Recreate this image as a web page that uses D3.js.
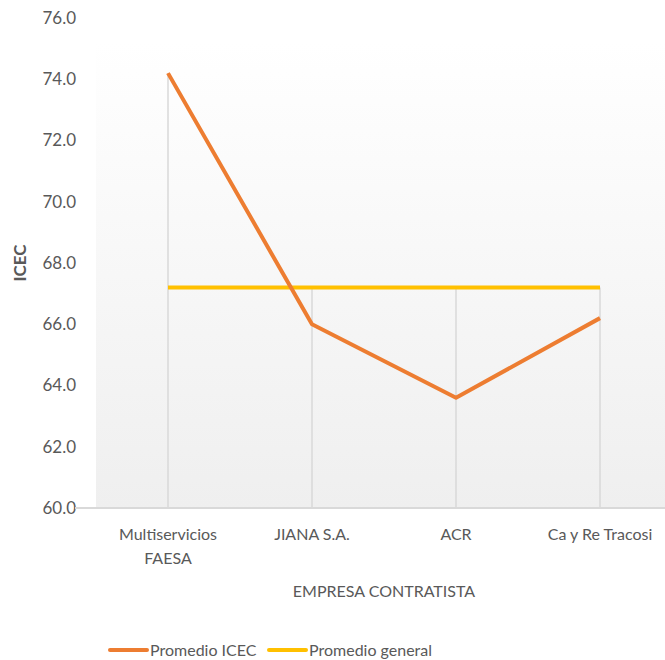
<!DOCTYPE html>
<html>
<head>
<meta charset="utf-8">
<script src="https://cdn.jsdelivr.net/npm/d3@7"></script>
<style>
  body { margin: 0; background: #fff; }
  text { font-family: Lato, "Open Sans", sans-serif; fill: #595959; }
</style>
</head>
<body>
<div id="chart"></div>
<script>
// data
const empresas = [["Multiservicios", "FAESA"], ["JIANA S.A."], ["ACR"], ["Ca y Re Tracosi"]];
const promedioICEC = [74.2, 66.0, 63.6, 66.2];
const promedioGeneral = [67.2, 67.2, 67.2, 67.2];
const yTicks = [60, 62, 64, 66, 68, 70, 72, 74, 76];

const width = 665, height = 660;
const margin = {top: 18, right: -7, bottom: 152, left: 96};

const svg = d3.select("#chart").append("svg")
  .attr("width", width)
  .attr("height", height);

const names = empresas.map(d => d.join(" "));

const x = d3.scaleBand()
  .domain(names)
  .range([margin.left, width - margin.right]);

const y = d3.scaleLinear()
  .domain([60, 76])
  .range([height - margin.bottom, margin.top]);

// background gradient
const grad = svg.append("defs").append("linearGradient")
  .attr("id", "bg").attr("x1", 0).attr("y1", 0).attr("x2", 0).attr("y2", 1);
grad.append("stop").attr("offset", "0%").attr("stop-color", "#ffffff");
grad.append("stop").attr("offset", "100%").attr("stop-color", "#efefef");

svg.append("rect")
  .attr("x", margin.left)
  .attr("y", y(75.2))
  .attr("width", width - margin.left)
  .attr("height", y(60) - y(75.2))
  .attr("fill", "url(#bg)");

// drop lines
svg.append("g").selectAll("line")
  .data(names)
  .join("line")
  .attr("x1", d => x(d) + x.bandwidth() / 2)
  .attr("x2", d => x(d) + x.bandwidth() / 2)
  .attr("y1", (d, i) => y(Math.max(promedioICEC[i], promedioGeneral[i])))
  .attr("y2", y(60))
  .attr("stroke", "#d9d9d9")
  .attr("stroke-width", 1.5);

// y axis labels
svg.append("g").selectAll("text")
  .data(yTicks)
  .join("text")
  .attr("x", 76)
  .attr("y", d => y(d))
  .attr("dy", "0.35em")
  .attr("text-anchor", "end")
  .style("font-size", "17px")
  .text(d => d.toFixed(1));

// x axis line
svg.append("line")
  .attr("x1", 75).attr("x2", width)
  .attr("y1", y(60)).attr("y2", y(60))
  .attr("stroke", "#d9d9d9")
  .attr("stroke-width", 2);

// x labels
const xl = svg.append("g").selectAll("text")
  .data(empresas)
  .join("text")
  .attr("x", (d, i) => x(names[i]) + x.bandwidth() / 2)
  .attr("y", 540)
  .attr("text-anchor", "middle")
  .style("font-size", "16px");
xl.selectAll("tspan")
  .data(d => d)
  .join("tspan")
  .attr("x", function() { return d3.select(this.parentNode).attr("x"); })
  .attr("dy", (d, i) => i === 0 ? 0 : 24)
  .text(d => d);

// axis titles
svg.append("text")
  .attr("x", 384).attr("y", 597)
  .attr("text-anchor", "middle")
  .style("font-size", "16px")
  .text("EMPRESA CONTRATISTA");

svg.append("text")
  .attr("transform", "translate(26," + y(68) + ") rotate(-90)")
  .attr("text-anchor", "middle")
  .style("font-size", "17px")
  .style("font-weight", "bold")
  .text("ICEC");

// lines
const line = d3.line()
  .x((d, i) => x(names[i]) + x.bandwidth() / 2)
  .y(d => y(d));

svg.append("path")
  .datum(promedioGeneral)
  .attr("d", line)
  .attr("fill", "none")
  .attr("stroke", "#ffc000")
  .attr("stroke-width", 4);

svg.append("path")
  .datum(promedioICEC)
  .attr("d", line)
  .attr("fill", "none")
  .attr("stroke", "#ed7d31")
  .attr("stroke-width", 4)
  .attr("stroke-linejoin", "round");

// legend
const legend = [
  {name: "Promedio ICEC", color: "#ed7d31", x: 110},
  {name: "Promedio general", color: "#ffc000", x: 269}
];
const lg = svg.append("g").selectAll("g")
  .data(legend)
  .join("g")
  .attr("transform", d => "translate(" + d.x + ",650)");
lg.append("line")
  .attr("x1", 0).attr("x2", 37)
  .attr("stroke", d => d.color)
  .attr("stroke-width", 4)
  .attr("stroke-linecap", "round");
lg.append("text")
  .attr("x", 40)
  .attr("dy", "0.35em")
  .style("font-size", "16px")
  .text(d => d.name);
</script>
</body>
</html>
